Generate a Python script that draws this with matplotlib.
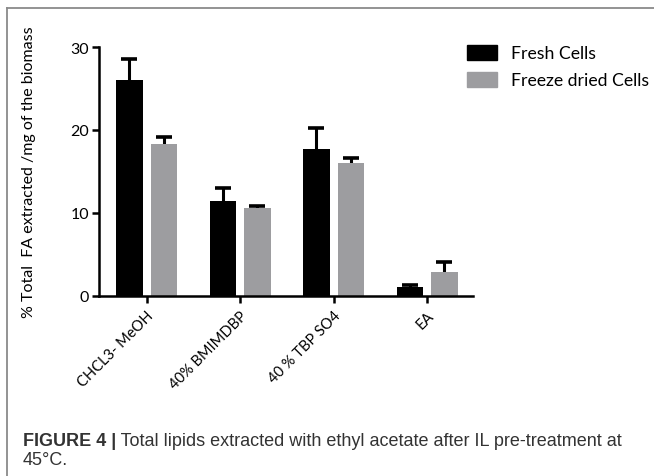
import numpy as np
import matplotlib
matplotlib.use("Agg")
import matplotlib.pyplot as plt
from matplotlib.lines import Line2D
from matplotlib.patches import Patch

# data
categories = ["CHCL3- MeOH", "40% BMIMDBP", "40 % TBP SO4", "EA"]
fresh = [26.0, 11.4, 17.7, 1.05]
fresh_err = [2.5, 1.6, 2.6, 0.25]
dried = [18.3, 10.55, 16.0, 2.9]
dried_err = [0.9, 0.25, 0.6, 1.2]
series_names = ["Fresh Cells", "Freeze dried Cells"]
y_ticks = [0, 10, 20, 30]

BLACK = "#000000"
GREY = "#9d9da0"
font = ["Lato", "DejaVu Sans"]
cap_font = ["Liberation Sans", "DejaVu Sans"]

fig = plt.figure(figsize=(6.54, 4.77), dpi=100)
ax = fig.add_axes([99 / 654, 1 - 297 / 477, (473 - 99) / 654, (297 - 48) / 477])

x = np.arange(len(categories))
w = 0.285
off = 0.185
ax.bar(x - off, fresh, w, color=BLACK, zorder=2)
ax.bar(x + off, dried, w, color=GREY, zorder=2)
# error bars sit behind the bars so only the upper half shows
err_kw = dict(fmt="none", ecolor="black", elinewidth=2.2, capsize=5.5,
              capthick=2.6, zorder=1)
ax.errorbar(x - off, fresh, yerr=fresh_err, **err_kw)
ax.errorbar(x + off, dried, yerr=dried_err, **err_kw)

ax.set_xlim(-0.51, 3.49)
ax.set_ylim(0, 30)
ax.set_yticks(y_ticks)
ax.set_yticklabels([str(t) for t in y_ticks], family=font, fontsize=11.5)
ax.set_xticks(x)
ax.set_xticklabels(categories, rotation=45, ha="right", va="top",
                   rotation_mode="anchor", family=font, fontsize=10.5)
for s in ["top", "right"]:
    ax.spines[s].set_visible(False)
for s in ["left", "bottom"]:
    ax.spines[s].set_linewidth(1.8)
ax.tick_params(width=1.8, length=5, pad=2)
ax.tick_params(axis="x", pad=4)
ax.set_ylabel("% Total  FA extracted /mg of the biomass", family=font,
              fontsize=11.5)
ax.yaxis.set_label_coords(-0.168, 0.5)

handles = [Patch(facecolor=BLACK, edgecolor=BLACK),
           Patch(facecolor=GREY, edgecolor=GREY)]
fig.legend(handles, series_names, loc="upper left",
           bbox_to_anchor=(467 / 654, 1 - 46 / 477), frameon=False,
           prop={"family": font, "size": 12.7}, handlelength=1.7,
           handleheight=0.9, labelspacing=0.6, handletextpad=0.8,
           borderpad=0, borderaxespad=0)

# panel frame
fig.add_artist(Line2D([7 / 654, 7 / 654], [0, 1 - 9 / 477],
                      transform=fig.transFigure, color="#8a8a8a", lw=1.3))
fig.add_artist(Line2D([7 / 654, 1], [1 - 9 / 477, 1 - 9 / 477],
                      transform=fig.transFigure, color="#8a8a8a", lw=1.3))

# caption
t1 = fig.text(23 / 654, 1 - 446 / 477, "FIGURE 4 |", fontweight="bold",
              family=cap_font, fontsize=13, color="#333333", va="baseline")
ax.annotate(" Total lipids extracted with ethyl acetate after IL pre-treatment at",
            xy=(1, 0), xycoords=t1, va="bottom", ha="left",
            family=cap_font, fontsize=13, color="#333333",
            annotation_clip=False)
fig.text(23 / 654, 1 - 465 / 477, "45\u00b0C.", family=cap_font, fontsize=13,
         color="#333333", va="baseline")

fig.savefig("out.png", dpi=100)
